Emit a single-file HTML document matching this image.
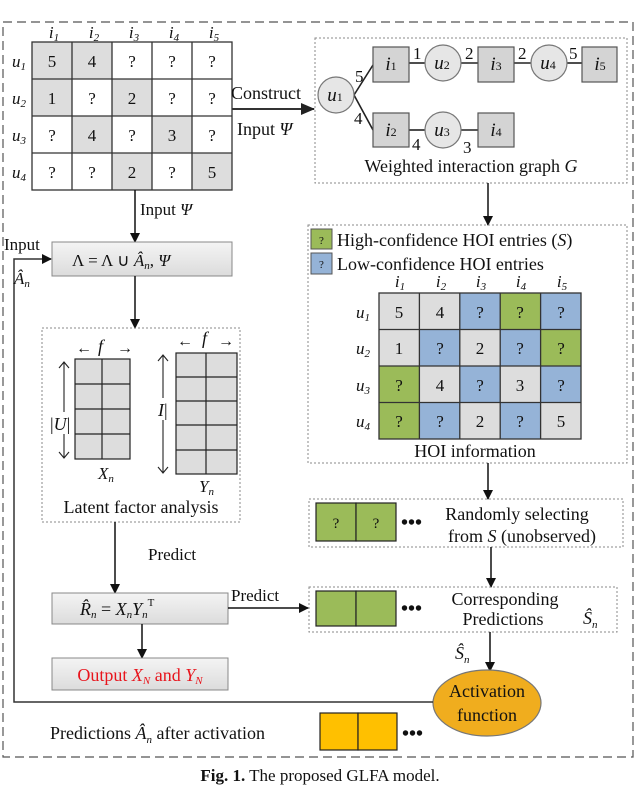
<!DOCTYPE html>
<html><head><meta charset="utf-8"><style>
body{margin:0;background:#fff}
svg{display:block;font-family:"Liberation Serif",serif}
text{fill:#111}
.it{font-style:italic}
</style></head><body>
<svg width="640" height="788" viewBox="0 0 640 788" xmlns="http://www.w3.org/2000/svg">
<defs>
<marker id="a" markerWidth="10" markerHeight="10" refX="9" refY="5" orient="auto" markerUnits="userSpaceOnUse"><path d="M0,0 L10,5 L0,10 z" fill="#111"/></marker>
<marker id="b" markerWidth="14" markerHeight="14" refX="13" refY="7" orient="auto" markerUnits="userSpaceOnUse"><path d="M0,1 L14,7 L0,13 z" fill="#222"/></marker>
<linearGradient id="g" x1="0" y1="0" x2="0" y2="1"><stop offset="0" stop-color="#f4f4f4"/><stop offset="1" stop-color="#dcdcdc"/></linearGradient>
</defs>
<!-- outer dashed -->
<rect x="3" y="22" width="630" height="735" fill="none" stroke="#555" stroke-width="1.2" stroke-dasharray="9,5"/>

<!-- left matrix -->
<g font-size="17" text-anchor="middle">
<rect x="32" y="42" width="40" height="37" fill="#ddd"/><rect x="72" y="42" width="40" height="37" fill="#ddd"/>
<rect x="32" y="79" width="40" height="37" fill="#ddd"/><rect x="112" y="79" width="40" height="37" fill="#ddd"/>
<rect x="72" y="116" width="40" height="37" fill="#ddd"/><rect x="152" y="116" width="40" height="37" fill="#ddd"/>
<rect x="112" y="153" width="40" height="37" fill="#ddd"/><rect x="192" y="153" width="40" height="37" fill="#ddd"/>
<g stroke="#333" stroke-width="1.3" fill="none">
<rect x="32" y="42" width="200" height="148"/>
<line x1="72" y1="42" x2="72" y2="190"/><line x1="112" y1="42" x2="112" y2="190"/><line x1="152" y1="42" x2="152" y2="190"/><line x1="192" y1="42" x2="192" y2="190"/>
<line x1="32" y1="79" x2="232" y2="79"/><line x1="32" y1="116" x2="232" y2="116"/><line x1="32" y1="153" x2="232" y2="153"/>
</g>
<text x="52" y="67">5</text><text x="92" y="67">4</text><text x="132" y="67">?</text><text x="172" y="67">?</text><text x="212" y="67">?</text>
<text x="52" y="104">1</text><text x="92" y="104">?</text><text x="132" y="104">2</text><text x="172" y="104">?</text><text x="212" y="104">?</text>
<text x="52" y="141">?</text><text x="92" y="141">4</text><text x="132" y="141">?</text><text x="172" y="141">3</text><text x="212" y="141">?</text>
<text x="52" y="178">?</text><text x="92" y="178">?</text><text x="132" y="178">2</text><text x="172" y="178">?</text><text x="212" y="178">5</text>
<g class="it"><text x="54" y="38">i<tspan font-size="11" dy="3">1</tspan></text><text x="94" y="38">i<tspan font-size="11" dy="3">2</tspan></text><text x="134" y="38">i<tspan font-size="11" dy="3">3</tspan></text><text x="174" y="38">i<tspan font-size="11" dy="3">4</tspan></text><text x="214" y="38">i<tspan font-size="11" dy="3">5</tspan></text>
<text x="19" y="67">u<tspan font-size="11" dy="3">1</tspan></text><text x="19" y="104">u<tspan font-size="11" dy="3">2</tspan></text><text x="19" y="141">u<tspan font-size="11" dy="3">3</tspan></text><text x="19" y="178">u<tspan font-size="11" dy="3">4</tspan></text></g>
</g>
<line x1="232" y1="109" x2="314" y2="109" stroke="#333" stroke-width="2" marker-end="url(#b)"/>
<text x="231" y="99" font-size="18">Construct</text>
<text x="237" y="135" font-size="18">Input <tspan class="it">Ψ</tspan></text>

<!-- graph box -->
<rect x="315" y="38" width="312" height="145" fill="none" stroke="#888" stroke-dasharray="2,2"/>
<g stroke="#222" stroke-width="1.6">
<line x1="354" y1="95" x2="373" y2="65"/><line x1="354" y1="95" x2="373" y2="130"/>
<line x1="409" y1="63" x2="425" y2="63"/><line x1="461" y1="63" x2="478" y2="63"/><line x1="514" y1="63" x2="531" y2="63"/><line x1="567" y1="63" x2="582" y2="63"/>
<line x1="409" y1="130" x2="425" y2="130"/><line x1="461" y1="130" x2="478" y2="130"/>
</g>
<g fill="#d4d4d4" stroke="#555" stroke-width="1.2">
<rect x="373" y="47" width="36" height="35"/><rect x="478" y="47" width="36" height="35"/><rect x="582" y="47" width="35" height="35"/>
<rect x="373" y="113" width="36" height="34"/><rect x="478" y="113" width="36" height="34"/>
</g>
<g fill="#e6e6e6" stroke="#777" stroke-width="1.2">
<circle cx="336" cy="95" r="18"/><circle cx="443" cy="63" r="18"/><circle cx="549" cy="63" r="18"/><circle cx="443" cy="130" r="18"/>
</g>
<g font-size="19" class="it" text-anchor="middle">
<text x="335" y="101">u<tspan font-size="12" font-style="normal">1</tspan></text><text x="442" y="69">u<tspan font-size="12" font-style="normal">2</tspan></text><text x="548" y="69">u<tspan font-size="12" font-style="normal">4</tspan></text><text x="442" y="136">u<tspan font-size="12" font-style="normal">3</tspan></text>
<text x="391" y="70">i<tspan font-size="12" font-style="normal">1</tspan></text><text x="496" y="70">i<tspan font-size="12" font-style="normal">3</tspan></text><text x="600" y="70">i<tspan font-size="12" font-style="normal">5</tspan></text>
<text x="391" y="136">i<tspan font-size="12" font-style="normal">2</tspan></text><text x="496" y="136">i<tspan font-size="12" font-style="normal">4</tspan></text>
</g>
<g font-size="17">
<text x="355" y="82">5</text><text x="354" y="124">4</text><text x="413" y="59">1</text><text x="465" y="59">2</text><text x="518" y="59">2</text><text x="569" y="59">5</text>
<text x="412" y="150">4</text><text x="463" y="153">3</text>
</g>
<text x="471" y="172" font-size="18" text-anchor="middle">Weighted interaction graph <tspan class="it">G</tspan></text>
<line x1="488" y1="183" x2="488" y2="225" stroke="#111" stroke-width="1.5" marker-end="url(#a)"/>

<!-- HOI box -->
<rect x="308" y="225" width="319" height="238" fill="none" stroke="#888" stroke-dasharray="2,2"/>
<rect x="311" y="229" width="21" height="20" fill="#9bbb59" stroke="#555"/><text x="321.5" y="244" font-size="11" text-anchor="middle">?</text>
<rect x="311" y="253" width="21" height="21" fill="#95b3d7" stroke="#555"/><text x="321.5" y="268" font-size="11" text-anchor="middle">?</text>
<text x="337" y="246" font-size="18">High-confidence HOI entries (<tspan class="it">S</tspan>)</text>
<text x="337" y="270" font-size="18">Low-confidence HOI entries</text>
<g font-size="17" text-anchor="middle">
<!-- colors per cell, col width 40.4 row 36.5 -->
<rect x="379" y="293" width="40.4" height="36.5" fill="#ddd"/><rect x="419.4" y="293" width="40.4" height="36.5" fill="#ddd"/><rect x="459.8" y="293" width="40.4" height="36.5" fill="#95b3d7"/><rect x="500.2" y="293" width="40.4" height="36.5" fill="#9bbb59"/><rect x="540.6" y="293" width="40.4" height="36.5" fill="#95b3d7"/>
<rect x="379" y="329.5" width="40.4" height="36.5" fill="#ddd"/><rect x="419.4" y="329.5" width="40.4" height="36.5" fill="#95b3d7"/><rect x="459.8" y="329.5" width="40.4" height="36.5" fill="#ddd"/><rect x="500.2" y="329.5" width="40.4" height="36.5" fill="#95b3d7"/><rect x="540.6" y="329.5" width="40.4" height="36.5" fill="#9bbb59"/>
<rect x="379" y="366" width="40.4" height="36.5" fill="#9bbb59"/><rect x="419.4" y="366" width="40.4" height="36.5" fill="#ddd"/><rect x="459.8" y="366" width="40.4" height="36.5" fill="#95b3d7"/><rect x="500.2" y="366" width="40.4" height="36.5" fill="#ddd"/><rect x="540.6" y="366" width="40.4" height="36.5" fill="#95b3d7"/>
<rect x="379" y="402.5" width="40.4" height="36.5" fill="#9bbb59"/><rect x="419.4" y="402.5" width="40.4" height="36.5" fill="#95b3d7"/><rect x="459.8" y="402.5" width="40.4" height="36.5" fill="#ddd"/><rect x="500.2" y="402.5" width="40.4" height="36.5" fill="#95b3d7"/><rect x="540.6" y="402.5" width="40.4" height="36.5" fill="#ddd"/>
<g stroke="#333" stroke-width="1.3" fill="none">
<rect x="379" y="293" width="202" height="146"/>
<line x1="419.4" y1="293" x2="419.4" y2="439"/><line x1="459.8" y1="293" x2="459.8" y2="439"/><line x1="500.2" y1="293" x2="500.2" y2="439"/><line x1="540.6" y1="293" x2="540.6" y2="439"/>
<line x1="379" y1="329.5" x2="581" y2="329.5"/><line x1="379" y1="366" x2="581" y2="366"/><line x1="379" y1="402.5" x2="581" y2="402.5"/>
</g>
<text x="399" y="318">5</text><text x="440" y="318">4</text><text x="480" y="318">?</text><text x="520" y="318">?</text><text x="561" y="318">?</text>
<text x="399" y="354">1</text><text x="440" y="354">?</text><text x="480" y="354">2</text><text x="520" y="354">?</text><text x="561" y="354">?</text>
<text x="399" y="391">?</text><text x="440" y="391">4</text><text x="480" y="391">?</text><text x="520" y="391">3</text><text x="561" y="391">?</text>
<text x="399" y="427">?</text><text x="440" y="427">?</text><text x="480" y="427">2</text><text x="520" y="427">?</text><text x="561" y="427">5</text>
<g class="it"><text x="400" y="287">i<tspan font-size="11" dy="3">1</tspan></text><text x="441" y="287">i<tspan font-size="11" dy="3">2</tspan></text><text x="481" y="287">i<tspan font-size="11" dy="3">3</tspan></text><text x="521" y="287">i<tspan font-size="11" dy="3">4</tspan></text><text x="562" y="287">i<tspan font-size="11" dy="3">5</tspan></text>
<text x="363" y="318">u<tspan font-size="11" dy="3">1</tspan></text><text x="363" y="354">u<tspan font-size="11" dy="3">2</tspan></text><text x="363" y="391">u<tspan font-size="11" dy="3">3</tspan></text><text x="363" y="427">u<tspan font-size="11" dy="3">4</tspan></text></g>
</g>
<text x="475" y="457" font-size="18" text-anchor="middle">HOI information</text>
<line x1="488" y1="463" x2="488" y2="499" stroke="#111" stroke-width="1.5" marker-end="url(#a)"/>

<!-- random box -->
<rect x="309" y="499" width="314" height="48" fill="none" stroke="#888" stroke-dasharray="2,2"/>
<rect x="316" y="503" width="40" height="38" fill="#9bbb59" stroke="#222" stroke-width="1.2"/><rect x="356" y="503" width="40" height="38" fill="#9bbb59" stroke="#222" stroke-width="1.2"/>
<text x="336" y="528" font-size="15" text-anchor="middle">?</text><text x="376" y="528" font-size="15" text-anchor="middle">?</text>
<text x="401" y="529" font-size="20" font-weight="bold">•••</text>
<text x="517" y="520" font-size="18" text-anchor="middle">Randomly selecting</text>
<text x="522" y="542" font-size="18" text-anchor="middle">from <tspan class="it">S</tspan> (unobserved)</text>
<line x1="491" y1="547" x2="491" y2="587" stroke="#111" stroke-width="1.5" marker-end="url(#a)"/>

<!-- corresponding box -->
<rect x="309" y="587" width="308" height="45" fill="none" stroke="#888" stroke-dasharray="2,2"/>
<rect x="316" y="591" width="40" height="35" fill="#9bbb59" stroke="#222" stroke-width="1.2"/><rect x="356" y="591" width="40" height="35" fill="#9bbb59" stroke="#222" stroke-width="1.2"/>
<text x="401" y="615" font-size="20" font-weight="bold">•••</text>
<text x="505" y="605" font-size="18" text-anchor="middle">Corresponding</text>
<text x="503" y="625" font-size="18" text-anchor="middle">Predictions</text>
<text x="583" y="624" font-size="18" class="it">Ŝ<tspan font-size="11" dy="4">n</tspan></text>
<line x1="490" y1="632" x2="490" y2="671" stroke="#111" stroke-width="1.5" marker-end="url(#a)"/>
<text x="455" y="659" font-size="18" class="it">Ŝ<tspan font-size="11" dy="4">n</tspan></text>

<!-- ellipse -->
<ellipse cx="487" cy="703" rx="54" ry="33" fill="#f0ad1e" stroke="#777" stroke-width="1.2"/>
<text x="487" y="697" font-size="18" text-anchor="middle">Activation</text>
<text x="487" y="721" font-size="18" text-anchor="middle">function</text>

<!-- feedback -->
<polyline points="433,702 14,702 14,259 51,259" fill="none" stroke="#333" stroke-width="1.5" marker-end="url(#a)"/>
<text x="4" y="250" font-size="17">Input</text>
<text x="14" y="284" font-size="17" class="it">Â<tspan font-size="11" dy="3">n</tspan></text>

<!-- left column -->
<line x1="135" y1="190" x2="135" y2="242" stroke="#111" stroke-width="1.5" marker-end="url(#a)"/>
<text x="140" y="215" font-size="17">Input <tspan class="it">Ψ</tspan></text>
<rect x="52" y="242" width="180" height="34" fill="url(#g)" stroke="#888"/>
<text x="72" y="266" font-size="17">Λ = Λ ∪ <tspan class="it">Â</tspan><tspan font-size="11" dy="3" class="it">n</tspan><tspan dy="-3">, </tspan><tspan class="it">Ψ</tspan></text>
<line x1="135" y1="276" x2="135" y2="328" stroke="#111" stroke-width="1.5" marker-end="url(#a)"/>

<rect x="42" y="328" width="198" height="194" fill="none" stroke="#888" stroke-dasharray="2,2"/>
<g stroke="#222" stroke-width="1.2">
<rect x="75" y="359" width="55" height="100" fill="#ddd"/>
<line x1="102" y1="359" x2="102" y2="459"/><line x1="75" y1="384" x2="130" y2="384"/><line x1="75" y1="409" x2="130" y2="409"/><line x1="75" y1="434" x2="130" y2="434"/>
<rect x="176" y="353" width="61" height="121" fill="#ddd"/>
<line x1="206" y1="353" x2="206" y2="474"/><line x1="176" y1="377" x2="237" y2="377"/><line x1="176" y1="401" x2="237" y2="401"/><line x1="176" y1="425" x2="237" y2="425"/><line x1="176" y1="450" x2="237" y2="450"/>
</g>
<g font-size="16" fill="#111">
<text x="76" y="353">←</text><text x="117" y="353">→</text><text x="98" y="352" class="it" font-size="18">f</text>
<text x="177" y="346">←</text><text x="218" y="346">→</text><text x="202" y="344" class="it" font-size="18">f</text>
</g>
<g stroke="#222" stroke-width="1.1" fill="none">
<line x1="64" y1="362" x2="64" y2="458"/><polyline points="59,368 64,362 69,368"/><polyline points="59,452 64,458 69,452"/>
<line x1="163" y1="355" x2="163" y2="473"/><polyline points="158,361 163,355 168,361"/><polyline points="158,467 163,473 168,467"/>
</g>
<rect x="52" y="412" width="22" height="22" fill="#fff"/>
<text x="50" y="430" font-size="18">|<tspan class="it">U</tspan>|</text>
<rect x="156" y="398" width="16" height="22" fill="#fff"/>
<text x="158" y="416" font-size="18" class="it">I<tspan font-style="normal">|</tspan></text>
<text x="98" y="479" font-size="17" class="it">X<tspan font-size="11" dy="3">n</tspan></text>
<text x="199" y="492" font-size="17" class="it">Y<tspan font-size="11" dy="3">n</tspan></text>
<text x="141" y="513" font-size="18" text-anchor="middle">Latent factor analysis</text>

<line x1="115" y1="522" x2="115" y2="593" stroke="#111" stroke-width="1.5" marker-end="url(#a)"/>
<text x="148" y="560" font-size="17">Predict</text>
<rect x="52" y="593" width="176" height="31" fill="url(#g)" stroke="#888"/>
<text x="80" y="615" font-size="18" class="it">R̂<tspan font-size="11" dy="3">n</tspan><tspan dy="-3" font-style="normal"> = </tspan>X<tspan font-size="11" dy="3">n</tspan><tspan dy="-3">Y</tspan><tspan font-size="11" dy="3">n</tspan><tspan font-size="11" dy="-12" font-style="normal">T</tspan></text>
<line x1="228" y1="608" x2="308" y2="608" stroke="#111" stroke-width="1.5" marker-end="url(#a)"/>
<text x="231" y="601" font-size="17">Predict</text>
<line x1="142" y1="624" x2="142" y2="658" stroke="#111" stroke-width="1.5" marker-end="url(#a)"/>
<rect x="52" y="658" width="176" height="32" fill="url(#g)" stroke="#888"/>
<text x="140" y="681" font-size="18" text-anchor="middle" style="fill:#e8141c">Output <tspan class="it" style="fill:#e8141c">X</tspan><tspan font-size="11" dy="3" class="it" style="fill:#e8141c">N</tspan><tspan dy="-3" style="fill:#e8141c"> and </tspan><tspan class="it" style="fill:#e8141c">Y</tspan><tspan font-size="11" dy="3" class="it" style="fill:#e8141c">N</tspan></text>

<!-- bottom -->
<text x="50" y="739" font-size="18">Predictions <tspan class="it">Â</tspan><tspan font-size="11" dy="4" class="it">n</tspan><tspan dy="-4"> after activation</tspan></text>
<rect x="320" y="713" width="38" height="37" fill="#ffc000" stroke="#222" stroke-width="1.2"/><rect x="358" y="713" width="39" height="37" fill="#ffc000" stroke="#222" stroke-width="1.2"/>
<text x="402" y="740" font-size="20" font-weight="bold">•••</text>

<text x="320" y="781" font-size="17" text-anchor="middle"><tspan font-weight="bold">Fig. 1.</tspan> The proposed GLFA model.</text>
</svg>
</body></html>
